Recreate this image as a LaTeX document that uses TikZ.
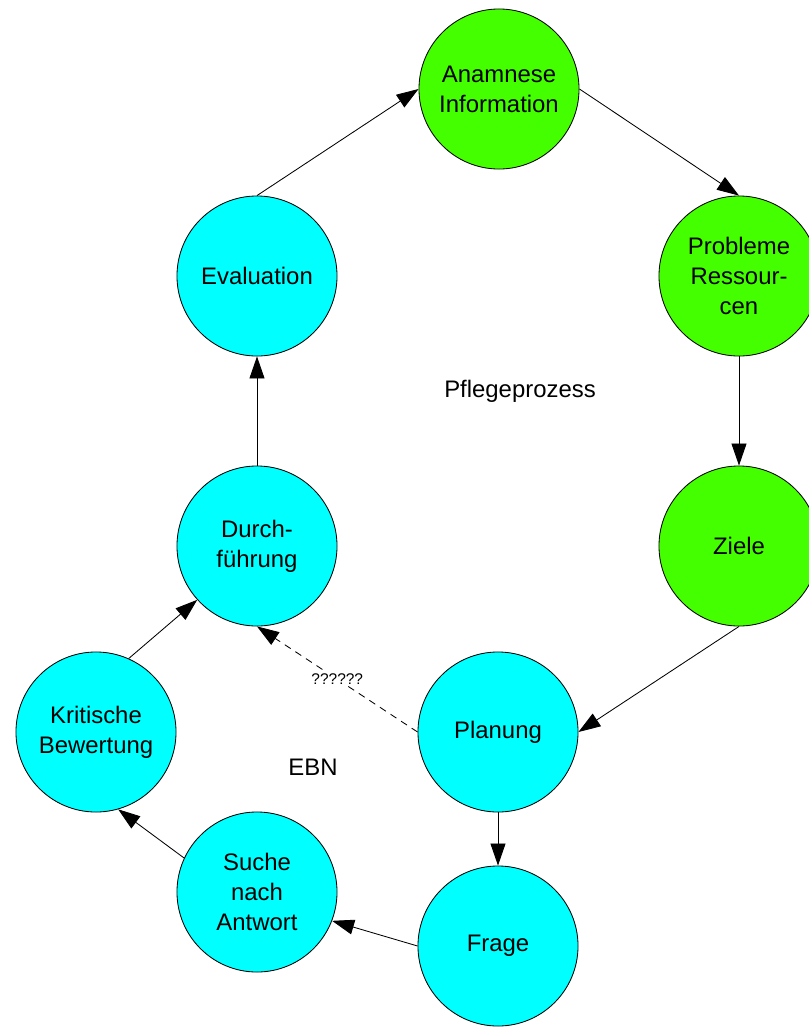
\documentclass[tikz,border=0pt]{standalone}
\usepackage{fontspec}
\setmainfont{Liberation Sans}
\usetikzlibrary{arrows.meta}
\definecolor{stepgreen}{RGB}{68,255,0}
\definecolor{stepcyan}{RGB}{0,255,255}

\begin{document}
\begin{tikzpicture}[x=0.025cm, y=-0.025cm,
    phase/.style={circle, draw=black, line width=0.6pt, minimum size=4cm,
      inner sep=0pt, align=center, font=\fontsize{17}{21.3}\selectfont},
    pflege/.style={phase, fill=stepgreen},
    ebn/.style={phase, fill=stepcyan},
    flow/.style={line width=0.6pt, -{Triangle[length=0.55cm, width=0.375cm]}}]
  \useasboundingbox (0,0) rectangle (809,1027);

  \node[pflege] (anam)  at (499,89)  {Anamnese\\Information};
  \node[pflege] (prob)  at (739,276) {Probleme\\Ressour-\\cen};
  \node[pflege] (ziele) at (739,546) {Ziele};
  \node[ebn]    (plan)  at (498,732) {Planung};
  \node[ebn]    (frage) at (498,946) {Frage};
  \node[ebn]    (suche) at (257,892) {Suche\\nach\\Antwort};
  \node[ebn]    (krit)  at (96,732)  {Kritische\\Bewertung};
  \node[ebn]    (durch) at (257,546) {Durch-\\führung};
  \node[ebn]    (eval)  at (257,276) {Evaluation};

  \node[font=\fontsize{17}{20}\selectfont] (title) at (520,391) {Pflegeprozess};
  \node[font=\fontsize{17}{20}\selectfont] (ebnlabel) at (313,767) {EBN};

  \draw[flow] (eval.north) -- (anam.west);
  \draw[flow] (anam.east) -- (prob.north);
  \draw[flow] (prob.south) -- (ziele.north);
  \draw[flow] (ziele.south) -- (plan.east);
  \draw[flow] (plan.south) -- (frage.north);
  \draw[flow] (frage.west) -- (suche.-21);
  \draw[flow] (suche.155) -- (krit.-74);
  \draw[flow] (krit.66) -- (durch.222);
  \draw[flow] (durch.north) -- (eval.south);
  \draw[flow, dash pattern=on 5pt off 4pt] (plan.west) -- (durch.south)
    node[midway, fill=white, inner sep=1pt, font=\fontsize{11}{13}\selectfont] {??????};
\end{tikzpicture}
\end{document}
